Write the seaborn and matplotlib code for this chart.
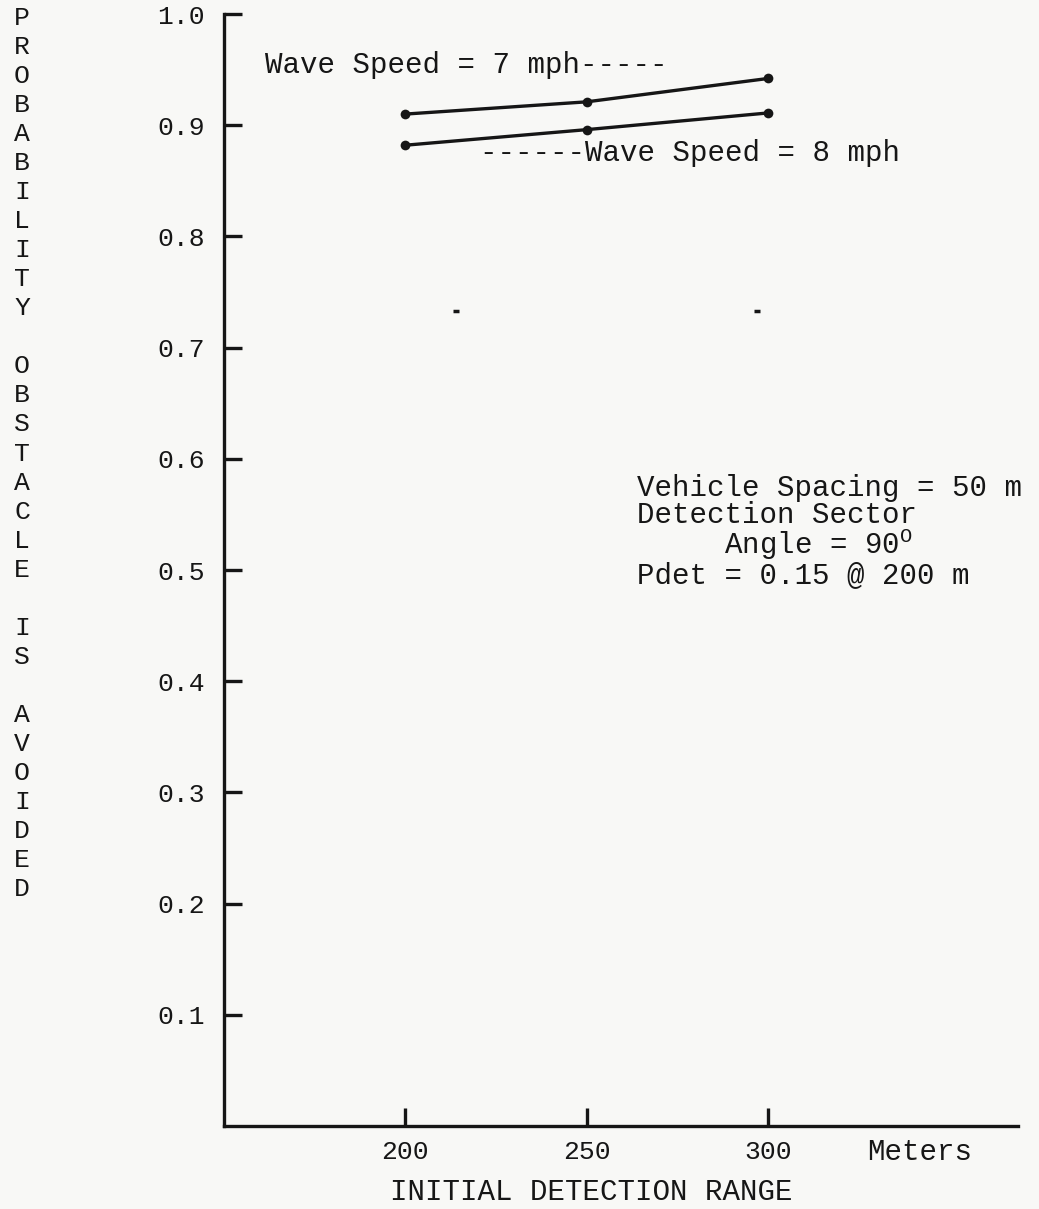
import matplotlib
matplotlib.use("Agg")
import matplotlib.pyplot as plt
import seaborn as sns
import pandas as pd

# ---- data ----
ranges = [200, 250, 300]
p_wave7 = [0.910, 0.921, 0.942]
p_wave8 = [0.882, 0.896, 0.911]
series_names = ["Wave Speed = 7 mph", "Wave Speed = 8 mph"]
yticks = [0.1, 0.2, 0.3, 0.4, 0.5, 0.6, 0.7, 0.8, 0.9, 1.0]
ytick_labels = ["0.1", "0.2", "0.3", "0.4", "0.5", "0.6", "0.7", "0.8", "0.9", "1.0"]
xticks = [200, 250, 300]
xtick_labels = ["200", "250", "300"]
stray_x = [214, 297]
stray_y = [0.733, 0.733]

df = pd.DataFrame({
    "range": ranges * 2,
    "p": p_wave7 + p_wave8,
    "series": [series_names[0]] * 3 + [series_names[1]] * 3,
})

sns.set_theme(style="white")
FONT = ["Liberation Mono", "DejaVu Sans Mono"]
plt.rcParams["font.family"] = FONT
plt.rcParams["mathtext.fontset"] = "custom"
plt.rcParams["mathtext.rm"] = "Liberation Mono"
INK = "#161616"
BG = "#f8f8f6"

W, H = 1039, 1209
fig = plt.figure(figsize=(W / 100, H / 100), dpi=100, facecolor=BG)
left, right = 224 / W, 1018 / W
bottom, top = 1 - 1126 / H, 1 - 14 / H
ax = fig.add_axes([left, bottom, right - left, top - bottom])
ax.set_facecolor(BG)

sns.lineplot(data=df, x="range", y="p", hue="series", palette=[INK, INK],
             marker="o", markersize=7, markeredgewidth=0, linewidth=2.4,
             legend=False, ax=ax)
ax.plot(stray_x, stray_y, linestyle="none", marker="_", markersize=5,
        markeredgewidth=2.5, color=INK)

ax.set_xlim(150, 369)
ax.set_ylim(0, 1.0)
ax.set_xticks(xticks)
ax.set_xticklabels(xtick_labels)
ax.set_yticks(yticks)
ax.set_yticklabels(ytick_labels)

for s in ["top", "right"]:
    ax.spines[s].set_visible(False)
for s in ["left", "bottom"]:
    ax.spines[s].set_color(INK)
    ax.spines[s].set_linewidth(2.4)

ax.tick_params(axis="both", which="major", left=True, bottom=True,
               direction="in", length=13, width=2.4, color=INK,
               labelcolor=INK, labelsize=19)
ax.tick_params(axis="y", pad=14)
ax.tick_params(axis="x", pad=10)

ax.set_xlabel("INITIAL DETECTION RANGE", fontsize=21, color=INK, va="top", ha="center")
ax.xaxis.set_label_coords((591 - 224) / 794, -52 / 1112)

ylab = "\n".join(list("PROBABILITY") + [" "] + list("OBSTACLE") + [" "] +
                 list("IS") + [" "] + list("AVOIDED"))
ax.set_ylabel(ylab, rotation=0, fontsize=19, color=INK, va="top", ha="center",
              linespacing=1.265)
ax.yaxis.set_label_coords((22 - 224) / 794, (1126 - 6) / 1112)

fig.text(920 / W, 1 - 1152 / H, "Meters", fontsize=21, color=INK,
         ha="center", va="center")

ax.text(161.3, 0.954, "Wave Speed = 7 mph-----", fontsize=21, color=INK,
        ha="left", va="center")
ax.text(220.6, 0.875, "------Wave Speed = 8 mph", fontsize=21, color=INK,
        ha="left", va="center")
note = ("Vehicle Spacing = 50 m\n"
        "Detection Sector\n"
        "     Angle = 90$^{\\mathrm{O}}$\n"
        "Pdet = 0.15 @ 200 m")
ax.text(263.9, 0.586, note, fontsize=21, color=INK, ha="left", va="top",
        linespacing=0.93)

fig.savefig("out.png", dpi=100, facecolor=BG)
